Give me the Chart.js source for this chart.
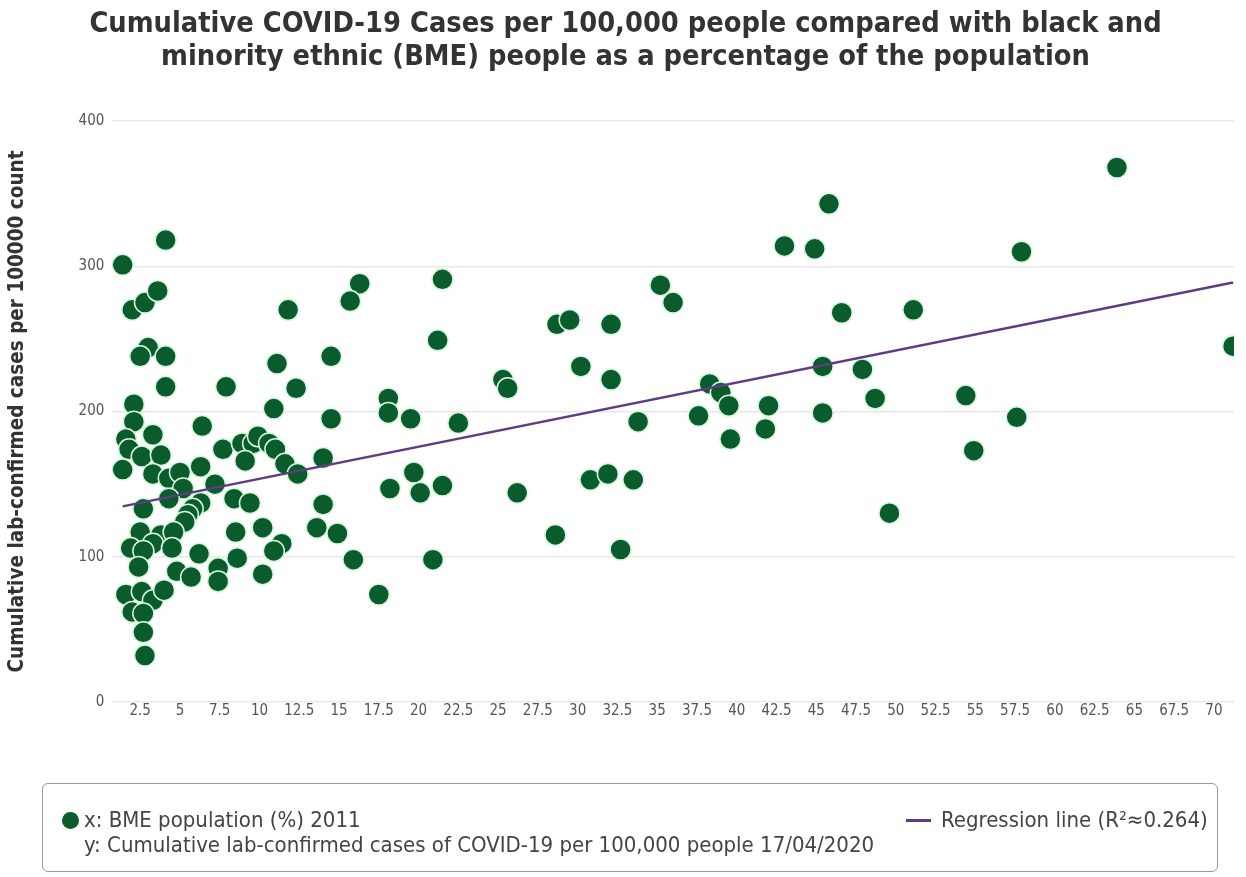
<!DOCTYPE html>
<html>
<head>
<meta charset="utf-8">
<script src="https://cdn.jsdelivr.net/npm/chart.js@4/dist/chart.umd.min.js"></script>
<style>
    body { margin: 0; background: #fff; }
    #wrap { position: relative; width: 1246px; height: 877px; }
    #legend {
        position: absolute; left: 42px; top: 783px; width: 1176px; height: 89px;
        border: 1px solid #9a9a9a; border-radius: 6px; box-sizing: border-box;
        font-family: 'DejaVu Sans Condensed', 'DejaVu Sans', sans-serif; font-size: 22px; color: #444;
    }
    .item { position: absolute; top: 23px; line-height: 25px; }
    .dot { position: absolute; width: 17px; height: 17px; border-radius: 50%; top: 5px; }
    .line { position: absolute; width: 25px; height: 3px; top: 12px; }
</style>
</head>
<body>
<div id="wrap">
    <canvas id="chartBme" width="1246" height="877"></canvas>
    <div id="legend"></div>
</div>
<script>
// BME population (%) 2011
const bmePct = [
    1.4, 4.1, 2.0, 2.8, 3.6, 3.0, 2.5, 4.1, 4.1, 7.9, 11.1, 11.8, 14.5, 12.3, 10.9, 14.5,
    2.1, 2.1, 6.4, 1.6, 3.3, 1.8, 2.6, 3.8, 1.4, 3.3, 4.3, 5.0, 6.3, 5.2, 7.2, 7.7,
    8.9, 9.6, 9.9, 10.6, 11.0, 9.1, 11.6, 12.4, 14.0, 4.3, 2.7, 6.3, 5.8, 5.5, 5.3,
    8.4, 9.4, 14.0, 2.5, 3.8, 4.6, 3.3, 1.9, 2.7, 4.5, 6.2, 2.4, 4.8, 5.7, 7.4, 7.4,
    1.6, 2.6, 3.3, 4.0, 2.0, 2.7, 2.7, 2.8, 8.5, 10.2, 13.6, 14.9, 11.4, 10.9, 8.6,
    10.2, 15.9,
    16.3, 15.7, 21.5, 21.2, 18.1, 18.1, 19.5, 22.5, 25.3, 25.6, 28.7, 29.5, 32.1, 30.2,
    32.1, 33.8, 35.2, 36.0, 38.3, 39.0, 39.5, 37.6, 39.6, 20.9, 17.5, 18.2, 19.7, 20.1,
    21.5, 26.2, 28.6, 30.8, 31.9, 33.5, 32.7,
    63.9, 45.8, 43.0, 44.9, 57.9, 46.6, 51.1, 42.0, 41.8, 45.4, 47.9, 45.4, 48.7, 54.4,
    57.6, 54.9, 49.6, 71.2
];
// Cumulative lab-confirmed cases per 100,000 people 17/04/2020
const casesPer100k = [
    301, 318, 270, 275, 283, 244, 238, 238, 217, 217, 233, 270, 238, 216, 202, 195,
    205, 193, 190, 181, 184, 174, 169, 170, 160, 157, 154, 158, 162, 147, 150, 174,
    178, 178, 183, 178, 174, 166, 164, 157, 168, 140, 133, 137, 133, 129, 124,
    140, 137, 136, 117, 115, 117, 109, 106, 104, 106, 102, 93, 90, 86, 92, 83,
    74, 76, 70, 77, 62, 61, 48, 32, 117, 120, 120, 116, 109, 104, 99,
    88, 98,
    288, 276, 291, 249, 209, 199, 195, 192, 222, 216, 260, 263, 260, 231,
    222, 193, 287, 275, 219, 213, 204, 197, 181, 98, 74, 147, 158, 144,
    149, 144, 115, 153, 157, 153, 105,
    368, 343, 314, 312, 310, 268, 270, 204, 188, 231, 229, 199, 209, 211,
    196, 173, 130, 245
];
// regression line end points
const regX = [1.4, 71.2];
const regY = [134.7, 288.8];

const xTicks = [2.5, 5, 7.5, 10, 12.5, 15, 17.5, 20, 22.5, 25, 27.5, 30, 32.5, 35,
    37.5, 40, 42.5, 45, 47.5, 50, 52.5, 55, 57.5, 60, 62.5, 65, 67.5, 70];
const yTicks = [0, 100, 200, 300, 400];

const fontFam = "'DejaVu Sans Condensed', 'DejaVu Sans', sans-serif";
Chart.defaults.font.family = fontFam;

const points = bmePct.map((x, i) => ({ x: x, y: casesPer100k[i] }));
const regression = regX.map((x, i) => ({ x: x, y: regY[i] }));

const data = {
    datasets: [{
        type: 'line',
        label: 'Regression line (R²≈0.264)',
        data: regression,
        borderColor: '#5e3c82',
        borderWidth: 2.5,
        pointRadius: 0,
        fill: false,
        order: 0
    }, {
        type: 'scatter',
        label: ['x: BME population (%) 2011', 'y: Cumulative lab-confirmed cases of COVID-19 per 100,000 people 17/04/2020'],
        data: points,
        backgroundColor: '#0a5c2c',
        borderColor: '#d8f7e0',
        borderWidth: 1.5,
        pointRadius: 10.5,
        order: 1
    }]
};

const config = {
    type: 'scatter',
    data: data,
    options: {
        responsive: false,
        animation: false,
        layout: { padding: { left: 5, right: 0, top: 4, bottom: 157 } },
        plugins: {
            legend: { display: false },
            tooltip: { enabled: false },
            title: {
                display: true,
                text: ['Cumulative COVID-19 Cases per 100,000 people compared with black and',
                       'minority ethnic (BME) people as a percentage of the population'],
                color: '#333',
                font: { size: 28.7, weight: 'bold', lineHeight: 1.15 },
                padding: { top: 4, bottom: 47 }
            }
        },
        scales: {
            x: {
                type: 'linear',
                min: 0.75,
                max: 71.26,
                grid: { display: false, drawTicks: false },
                border: { display: false },
                afterBuildTicks: (axis) => { axis.ticks = xTicks.map(v => ({ value: v })); },
                ticks: {
                    autoSkip: false,
                    maxRotation: 0,
                    color: '#555',
                    font: { size: 15 },
                    padding: 0
                }
            },
            y: {
                min: yTicks[0],
                max: yTicks[yTicks.length - 1],
                grid: { color: '#e8e8e8', lineWidth: 1.5, drawTicks: false },
                border: { display: false },
                afterBuildTicks: (axis) => { axis.ticks = yTicks.map(v => ({ value: v })); },
                ticks: { color: '#555', font: { size: 15 }, padding: 8 },
                title: {
                    display: true,
                    text: 'Cumulative lab-confirmed cases per 100000 count',
                    color: '#333',
                    font: { size: 20.5, weight: 'bold' },
                    padding: { top: 0, bottom: 41 }
                }
            }
        }
    }
};

const chartBme = new Chart(document.getElementById('chartBme'), config);

// html legend built from the datasets
const legend = document.getElementById('legend');
const sc = chartBme.data.datasets[1];
const rg = chartBme.data.datasets[0];
legend.innerHTML =
    '<div class="item" style="left:19px"><span class="dot" style="left:0;background:' + sc.backgroundColor + '"></span>' +
    '<div style="margin-left:22px">' + sc.label.join('<br>') + '</div></div>' +
    '<div class="item" style="left:863px"><span class="line" style="left:0;background:' + rg.borderColor + '"></span>' +
    '<div style="margin-left:35px">' + rg.label + '</div></div>';
</script>
</body>
</html>
